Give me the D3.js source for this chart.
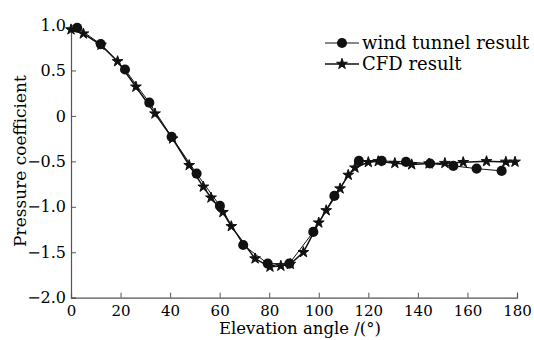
<!DOCTYPE html>
<html>
<head>
<meta charset="utf-8">
<script src="https://cdn.jsdelivr.net/npm/d3@7"></script>
<style>
  html, body { margin: 0; padding: 0; background: #fff; }
  svg { display: block; font-family: 'DejaVu Serif', serif; }
</style>
</head>
<body>
<div id="chart"></div>
<script>
// wind tunnel measurements (circles)
const windAngle = [0, 2.5, 12, 21.8, 31.6, 40.6, 50.7, 60.1, 69.5, 79.4, 88.1, 97.8, 106.3, 116.2, 125.4, 135.2, 144.9, 154.3, 163.7, 173.8]
const windCp    = [0.96, 0.97, 0.79, 0.51, 0.146, -0.23, -0.635, -0.99, -1.42, -1.625, -1.625, -1.276, -0.88, -0.495, -0.495, -0.506, -0.524, -0.55, -0.58, -0.605]

// CFD results (stars)
const cfdAngle = [0, 5, 12.1, 18.8, 26.2, 33.9, 41, 47.7, 53.4, 56.5, 61.3, 64.7, 74.3, 80.3, 84.7, 88.5, 93.8, 100, 103, 108.6, 111.9, 114.6, 120, 124, 130.7, 137.5, 144.5, 150.9, 158.3, 167.7, 175.5, 179.2]
const cfdCp    = [0.95, 0.905, 0.78, 0.6, 0.32, 0.025, -0.25, -0.543, -0.78, -0.9, -1.06, -1.215, -1.57, -1.66, -1.65, -1.63, -1.5, -1.175, -1.04, -0.8, -0.65, -0.57, -0.51, -0.5, -0.52, -0.535, -0.525, -0.52, -0.51, -0.5, -0.506, -0.506]

const xTicks = [0, 20, 40, 60, 80, 100, 120, 140, 160, 180]
const yTicks = [1.0, 0.5, 0, -0.5, -1.0, -1.5, -2.0]

const width = 534
const height = 340
const axisColor = '#555'

const svg = d3.select('#chart')
  .append('svg')
  .attr('width', width)
  .attr('height', height)

const x = d3.scaleLinear().domain([0, 180]).range([71, 517])
const y = d3.scaleLinear().domain([-2, 1]).range([297.7, 25])

// axes
const xAxis = svg.append('g')
  .attr('transform', `translate(0,${y(-2)})`)
  .call(d3.axisBottom(x).tickValues(xTicks).tickSize(-5).tickPadding(8).tickFormat(d3.format('d')))
const yAxis = svg.append('g')
  .attr('transform', `translate(${x(0)},0)`)
  .call(d3.axisLeft(y).tickValues(yTicks).tickSize(-5).tickPadding(5)
    .tickFormat(d => d === 0 ? '0' : d3.format('.1f')(d)))

for (const ax of [xAxis, yAxis]) {
  ax.select('.domain').attr('stroke', axisColor).attr('stroke-width', 1.2)
  ax.selectAll('.tick line').attr('stroke', axisColor).attr('stroke-width', 1)
  ax.selectAll('.tick text')
    .attr('fill', '#000')
    .style('font-family', "'DejaVu Serif', serif")
    .style('font-size', '16px')
}
xAxis.selectAll('.tick text').attr('dy', '0.71em').style('font-size', '15px')

// axis titles
svg.append('text')
  .attr('x', 300)
  .attr('y', 334)
  .attr('text-anchor', 'middle')
  .attr('fill', '#000')
  .style('font-size', '16.5px')
  .text('Elevation angle /(°)')

svg.append('text')
  .attr('transform', 'translate(26,161) rotate(-90)')
  .attr('text-anchor', 'middle')
  .attr('fill', '#000')
  .style('font-size', '17px')
  .text('Pressure coefficient')

const line = d3.line().x(d => x(d[0])).y(d => y(d[1]))
const windData = d3.zip(windAngle, windCp)
const cfdData = d3.zip(cfdAngle, cfdCp)

const circle = d3.symbol().type(d3.symbolCircle).size(80)
const star = d3.symbol().type(d3.symbolStar).size(36)

// wind tunnel series
svg.append('path')
  .datum(windData)
  .attr('d', line)
  .attr('fill', 'none')
  .attr('stroke', '#111')
  .attr('stroke-width', 1)

// CFD series
svg.append('path')
  .datum(cfdData)
  .attr('d', line)
  .attr('fill', 'none')
  .attr('stroke', '#111')
  .attr('stroke-width', 1.5)

svg.append('g')
  .selectAll('path')
  .data(cfdData)
  .join('path')
  .attr('transform', d => `translate(${x(d[0])},${y(d[1])})`)
  .attr('d', star)
  .attr('fill', '#111')
  .attr('stroke', '#111')
  .attr('stroke-width', 1)

svg.append('g')
  .selectAll('path')
  .data(windData.slice(1))
  .join('path')
  .attr('transform', d => `translate(${x(d[0])},${y(d[1])})`)
  .attr('d', circle)
  .attr('fill', '#111')

// legend
const legend = svg.append('g')
const items = [
  { label: 'wind tunnel result', symbol: circle, y: 43, w: 1, stroke: 0 },
  { label: 'CFD result', symbol: star, y: 64, w: 1.6, stroke: 1 }
]
items.forEach(it => {
  legend.append('line')
    .attr('x1', 325).attr('x2', 359)
    .attr('y1', it.y).attr('y2', it.y)
    .attr('stroke', '#111')
    .attr('stroke-width', it.w)
  legend.append('path')
    .attr('transform', `translate(342,${it.y})`)
    .attr('d', it.symbol)
    .attr('fill', '#111')
    .attr('stroke', '#111')
    .attr('stroke-width', it.stroke)
  legend.append('text')
    .attr('x', 362)
    .attr('y', it.y)
    .attr('dy', '0.35em')
    .attr('fill', '#000')
    .style('font-size', '18px')
    .text(it.label)
})
</script>
</body>
</html>
